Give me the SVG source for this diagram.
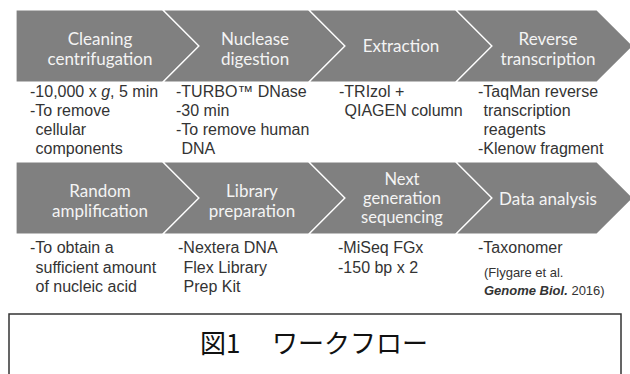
<svg xmlns="http://www.w3.org/2000/svg" width="630" height="374" viewBox="0 0 630 374">
<style>
.chev{fill:#808080;stroke:#ffffff;stroke-width:1.2}
.lab{font-family:Lato,"Open Sans",sans-serif;font-size:17px;fill:#f4f4f4;text-anchor:middle}
.lab3{font-size:16.5px}
.desc{font-family:"Liberation Sans",Arial,sans-serif;font-size:16px;fill:#333333}
.cite{font-family:"Liberation Sans",Arial,sans-serif;font-size:13px;fill:#333333}
.cap{font-family:"Noto Sans CJK JP","Noto Sans",sans-serif;font-size:26px;fill:#111111}
</style>
<rect width="630" height="374" fill="#ffffff"/>
<g id="connectors"/>
<g id="step1">
<polygon class="chev" points="16,10 163,10 199,46 163,82 16,82"/>
<text class="lab"><tspan x="100" y="45">Cleaning</tspan><tspan x="100" y="64.5">centrifugation</tspan></text>
<text class="desc"><tspan x="30" y="97">-10,000 x <tspan font-style="italic">g</tspan>, 5 min</tspan><tspan x="30" y="116">-To remove</tspan><tspan x="35.5" y="135">cellular</tspan><tspan x="35.5" y="154">components</tspan></text>
</g>
<g id="step2">
<polygon class="chev" points="163,10 309,10 345,46 309,82 163,82 199,46"/>
<text class="lab"><tspan x="255" y="45">Nuclease</tspan><tspan x="255" y="64.5">digestion</tspan></text>
<text class="desc"><tspan x="176" y="97">-TURBO™ DNase</tspan><tspan x="176" y="116">-30 min</tspan><tspan x="176" y="135">-To remove human</tspan><tspan x="181.5" y="154">DNA</tspan></text>
</g>
<g id="step3">
<polygon class="chev" points="309,10 456,10 492,46 456,82 309,82 345,46"/>
<text class="lab"><tspan x="401" y="52">Extraction</tspan></text>
<text class="desc"><tspan x="339" y="97">-TRIzol +</tspan><tspan x="344.5" y="116">QIAGEN column</tspan></text>
</g>
<g id="step4">
<polygon class="chev" points="456,10 597,10 633,46 597,82 456,82 492,46"/>
<text class="lab"><tspan x="548" y="45">Reverse</tspan><tspan x="548" y="64.5">transcription</tspan></text>
<text class="desc"><tspan x="478" y="97">-TaqMan reverse</tspan><tspan x="483.5" y="116">transcription</tspan><tspan x="483.5" y="135">reagents</tspan><tspan x="478" y="154">-Klenow fragment</tspan></text>
</g>
<g id="step5">
<polygon class="chev" points="16,162 163,162 199,198 163,234 16,234"/>
<text class="lab"><tspan x="100" y="197">Random</tspan><tspan x="100" y="216.5">amplification</tspan></text>
<text class="desc"><tspan x="30" y="253">-To obtain a</tspan><tspan x="35.5" y="272.5">sufficient amount</tspan><tspan x="35.5" y="292">of nucleic acid</tspan></text>
</g>
<g id="step6">
<polygon class="chev" points="163,162 309,162 345,198 309,234 163,234 199,198"/>
<text class="lab"><tspan x="252" y="197">Library</tspan><tspan x="252" y="216.5">preparation</tspan></text>
<text class="desc"><tspan x="178" y="253">-Nextera DNA</tspan><tspan x="183.5" y="272.5">Flex Library</tspan><tspan x="183.5" y="292">Prep Kit</tspan></text>
</g>
<g id="step7">
<polygon class="chev" points="309,162 456,162 492,198 456,234 309,234 345,198"/>
<text class="lab lab3"><tspan x="402" y="184.5">Next</tspan><tspan x="402" y="203.5">generation</tspan><tspan x="402" y="222.5">sequencing</tspan></text>
<text class="desc"><tspan x="338" y="253">-MiSeq FGx</tspan><tspan x="338" y="272.5">-150 bp x 2</tspan></text>
</g>
<g id="step8">
<polygon class="chev" points="456,162 597,162 633,198 597,234 456,234 492,198"/>
<text class="lab"><tspan x="548" y="204.5">Data analysis</tspan></text>
<text class="desc"><tspan x="478" y="253">-Taxonomer</tspan></text>
<text class="cite"><tspan x="484" y="277">(Flygare et al.</tspan><tspan x="484" y="294.5"><tspan font-weight="bold" font-style="italic">Genome Biol.</tspan> 2016)</tspan></text>
</g>
<g id="caption">
<rect x="9" y="314" width="612" height="80" fill="none" stroke="#333333" stroke-width="1.5"/>
<text class="cap" y="353"><tspan x="200">図1 </tspan><tspan x="272">ワークフロー</tspan></text>
</g>
</svg>
